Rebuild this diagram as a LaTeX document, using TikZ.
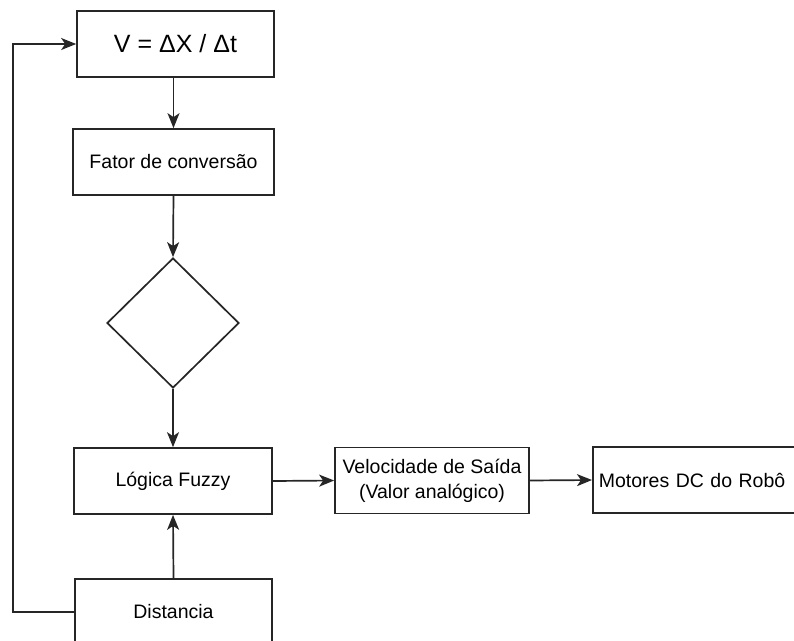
\documentclass[tikz,border=0pt]{standalone}
\usepackage{fontspec}
\setmainfont{Liberation Sans}
\usetikzlibrary{arrows.meta,shapes.geometric}

\tikzset{
  box/.style={draw=black!85, line width=1.7pt, rectangle, inner sep=0pt,
    minimum height=66pt, font=\fontsize{19.5}{25}\selectfont, align=center},
  decision/.style={draw=black!85, line width=1.7pt, diamond, inner sep=0pt,
    minimum width=132pt, minimum height=130pt},
  flow/.style={draw=black!85, line width=1.7pt,
    -{Stealth[length=15pt,width=12pt,inset=4pt]}},
}

\begin{document}
\begin{tikzpicture}[x=1pt,y=1pt]
  \useasboundingbox (0,0) rectangle (794,-640);
  \clip (0,0) rectangle (794,-640);

  % main chain of blocks
  \node[box, minimum width=197pt, font=\fontsize{25}{30}\selectfont]
    (speed) at (175.5,-44) {V = ΔX / Δt};
  \node[box, minimum width=201pt] (factor) at (173.5,-162) {Fator de conversão};
  \node[decision] (choice) at (173,-323) {};
  \node[box, minimum width=198pt] (fuzzy) at (173,-481) {Lógica Fuzzy};
  \node[box, minimum width=194pt] (output) at (432,-480.5)
    {Velocidade de Saída\\(Valor analógico)};
  \node[box, anchor=west, text width=198pt, inner xsep=6pt, align=left]
    (motors) at (592,-480) {Motores DC do Robô};
  \node[box, minimum width=197pt] (dist) at (173.5,-612) {Distancia};

  % feedback column on the left
  \coordinate (loopx) at (12.7,0);

  \draw[flow] (factor.north |- speed.south) -- (factor.north);
  \draw[flow] (factor.south) -- (choice.north);
  \draw[flow] (choice.south) -- (fuzzy.north);
  \draw[flow] (fuzzy.east) -- (output.west);
  \draw[flow] (output.east) -- (motors.west);
  \draw[flow] (dist.north) -- (fuzzy.south);
  \draw[flow] (dist.west) -- (dist.west -| loopx) |- (speed.west);
\end{tikzpicture}
\end{document}
